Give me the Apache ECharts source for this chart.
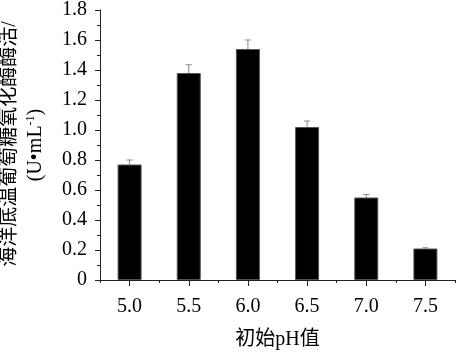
<!DOCTYPE html>
<html>
<head>
<meta charset="utf-8">
<script src="https://cdn.jsdelivr.net/npm/echarts@6/dist/echarts.min.js"></script>
<style>
html,body{margin:0;padding:0;background:#fff;}
#c{width:456px;height:355px;}
</style>
</head>
<body>
<div id="c"></div>
<script>
var categories = ['5.0', '5.5', '6.0', '6.5', '7.0', '7.5'];
var activity = [0.77, 1.38, 1.54, 1.02, 0.55, 0.21];
var errors = [0.03, 0.055, 0.06, 0.04, 0.02, 0.005];
var yTicks = [0, 0.2, 0.4, 0.6, 0.8, 1.0, 1.2, 1.4, 1.6, 1.8];
var xTitle = '初始pH值';
var yTitle1 = '海洋底温葡萄糖氧化酶酶活/';

var FONT = '"Liberation Serif", "Times New Roman", "Noto Sans CJK SC", serif';
var AX = '#222';

var errData = activity.map(function (v, i) { return [i, v, v + errors[i]]; });

var chart = echarts.init(document.getElementById('c'), null, {renderer: 'canvas'});
chart.setOption({
  animation: false,
  backgroundColor: '#fff',
  grid: {left: 100, right: 1, top: 9, bottom: 72, containLabel: false},
  xAxis: [{
    type: 'category',
    data: categories,
    boundaryGap: true,
    axisLine: {show: true, lineStyle: {color: AX, width: 1}},
    axisTick: {show: true, alignWithLabel: true, length: 6, lineStyle: {color: AX}},
    axisLabel: {color: '#000', fontFamily: FONT, fontSize: 20, margin: 17},
    name: xTitle,
    nameLocation: 'middle',
    nameGap: 50,
    nameTextStyle: {color: '#000', fontFamily: FONT, fontSize: 20},
    splitLine: {show: false}
  }, {
    type: 'category',
    data: categories,
    position: 'bottom',
    boundaryGap: true,
    axisLine: {show: false},
    axisTick: {show: true, alignWithLabel: false, length: 3, lineStyle: {color: AX}},
    axisLabel: {show: false},
    splitLine: {show: false}
  }],
  yAxis: {
    type: 'value',
    min: 0,
    max: 1.8,
    interval: 0.2,
    axisLine: {show: true, lineStyle: {color: AX, width: 1}},
    axisTick: {show: true, length: 5, lineStyle: {color: AX}},
    minorTick: {show: true, splitNumber: 2, length: 3, lineStyle: {color: AX}},
    axisLabel: {
      color: '#000', fontFamily: FONT, fontSize: 20, margin: 13,
      formatter: function (v) {
        var idx = yTicks.findIndex(function (t) { return Math.abs(t - v) < 1e-6; });
        if (idx < 0) return '';
        return yTicks[idx] === 0 ? '0' : yTicks[idx].toFixed(1);
      }
    },
    splitLine: {show: false}
  },
  graphic: [{
    type: 'text',
    x: 10, y: 144,
    rotation: Math.PI / 2,
    style: {
      text: yTitle1,
      font: '20px ' + FONT,
      fill: '#000',
      textAlign: 'center', textVerticalAlign: 'middle',
      align: 'center', verticalAlign: 'middle'
    }
  }, {
    type: 'text',
    x: 36, y: 145,
    rotation: Math.PI / 2,
    style: {
      text: '{a|(U•mL}{s|-1}{a|)}',
      fill: '#000',
      textAlign: 'center', textVerticalAlign: 'middle',
      align: 'center', verticalAlign: 'middle',
      rich: {
        a: {fontFamily: FONT, fontSize: 20, fill: '#000', color: '#000'},
        s: {fontFamily: FONT, fontSize: 12, fill: '#000', color: '#000', verticalAlign: 'top', padding: [0, 0, 10, 0]}
      }
    }
  }],
  series: [{
    type: 'bar',
    data: activity,
    barWidth: 24,
    itemStyle: {color: '#000', borderColor: '#555', borderWidth: 1},
    z: 2
  }, {
    type: 'custom',
    data: errData,
    z: 3,
    renderItem: function (params, api) {
      var i = api.value(0);
      var p0 = api.coord([i, api.value(1)]);
      var p1 = api.coord([i, api.value(2)]);
      var half = 3;
      var st = {stroke: '#888', lineWidth: 1};
      return {
        type: 'group',
        children: [
          {type: 'line', shape: {x1: p0[0], y1: p0[1], x2: p1[0], y2: p1[1]}, style: st},
          {type: 'line', shape: {x1: p1[0] - half, y1: p1[1], x2: p1[0] + half, y2: p1[1]}, style: st}
        ]
      };
    }
  }]
});
</script>
</body>
</html>
